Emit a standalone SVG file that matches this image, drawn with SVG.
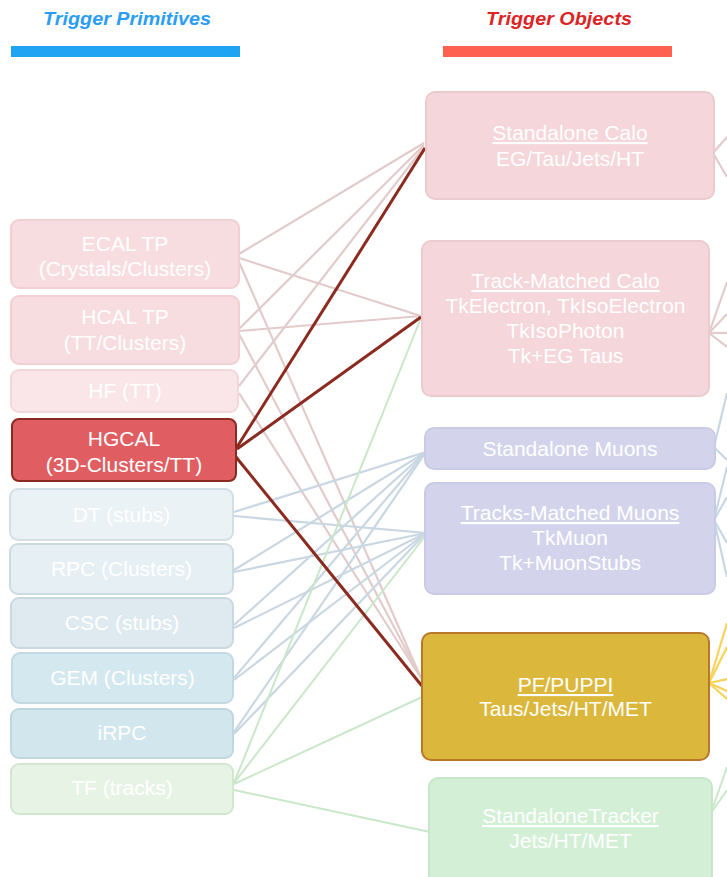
<svg xmlns="http://www.w3.org/2000/svg" width="727" height="877" viewBox="0 0 727 877">
<style>
text{font-family:"Liberation Sans",Arial,sans-serif;fill:#ffffff;font-size:21px;text-anchor:middle}
.hd{font-weight:bold;font-style:italic;font-size:18px}
.u{text-decoration:underline}
.cp{stroke:#e2cbcb;stroke-width:2.2;fill:none}
.cd{stroke:#8b2a1f;stroke-width:3;fill:none}
.cb{stroke:#c9d7e2;stroke-width:2.2;fill:none}
.cg{stroke:#c9e7c9;stroke-width:2;fill:none}
.cy{stroke:#f7d35a;stroke-width:2.2;fill:none}
rect{stroke-width:2}
</style>
<rect width="727" height="877" fill="#ffffff"/>
<g id="headers">
<text class="hd" x="127" y="25" fill="#2a9df4" style="fill:#2a9df4" textLength="168" lengthAdjust="spacingAndGlyphs">Trigger Primitives</text>
<rect x="11" y="46" width="229" height="11" fill="#1fa3f3" style="stroke:none"/>
<text class="hd" x="559" y="25" style="fill:#dd2424" textLength="146" lengthAdjust="spacingAndGlyphs">Trigger Objects</text>
<rect x="443" y="46" width="229" height="11" fill="#ff6150" style="stroke:none"/>
</g>
<g id="connectors">
<line class="cp" x1="239" y1="254" x2="424" y2="143"/>
<line class="cp" x1="239" y1="258" x2="421" y2="316"/>
<line class="cp" x1="239" y1="262" x2="421" y2="678"/>
<line class="cp" x1="239" y1="329" x2="424" y2="145"/>
<line class="cp" x1="239" y1="331" x2="421" y2="316"/>
<line class="cp" x1="239" y1="334" x2="421" y2="678"/>
<line class="cp" x1="239" y1="386" x2="424" y2="147"/>
<line class="cp" x1="239" y1="393" x2="421" y2="678"/>
<line class="cb" x1="234" y1="512" x2="426" y2="452"/>
<line class="cb" x1="234" y1="516" x2="426" y2="533"/>
<line class="cb" x1="234" y1="570" x2="426" y2="452"/>
<line class="cb" x1="234" y1="572" x2="426" y2="533"/>
<line class="cb" x1="234" y1="625" x2="426" y2="452"/>
<line class="cb" x1="234" y1="628" x2="426" y2="533"/>
<line class="cb" x1="234" y1="678" x2="426" y2="452"/>
<line class="cb" x1="234" y1="680" x2="426" y2="533"/>
<line class="cb" x1="234" y1="732" x2="426" y2="452"/>
<line class="cb" x1="234" y1="734" x2="426" y2="533"/>
<line class="cg" x1="234" y1="783" x2="421" y2="318"/>
<line class="cg" x1="234" y1="783" x2="426" y2="535"/>
<line class="cg" x1="234" y1="784" x2="422" y2="697"/>
<line class="cg" x1="234" y1="790" x2="430" y2="832"/>
<line class="cd" x1="237" y1="447" x2="425" y2="148"/>
<line class="cd" x1="237" y1="449" x2="421" y2="317"/>
<line class="cd" x1="236" y1="457" x2="422" y2="686"/>
<line class="cp" x1="713" y1="153" x2="727" y2="137"/>
<line class="cp" x1="713" y1="153" x2="727" y2="177"/>
<line class="cp" x1="709" y1="333" x2="727" y2="282"/>
<line class="cp" x1="709" y1="333" x2="727" y2="314"/>
<line class="cp" x1="709" y1="333" x2="727" y2="333"/>
<line class="cp" x1="709" y1="333" x2="727" y2="347"/>
<line class="cb" x1="714" y1="447" x2="727" y2="393"/>
<line class="cb" x1="714" y1="447" x2="727" y2="460"/>
<line class="cb" x1="714" y1="520" x2="727" y2="467"/>
<line class="cb" x1="714" y1="520" x2="727" y2="497"/>
<line class="cb" x1="714" y1="520" x2="727" y2="543"/>
<line class="cb" x1="714" y1="520" x2="727" y2="577"/>
<line class="cy" x1="709" y1="683" x2="727" y2="623"/>
<line class="cy" x1="709" y1="683" x2="727" y2="647"/>
<line class="cy" x1="709" y1="683" x2="727" y2="679"/>
<line class="cy" x1="709" y1="683" x2="727" y2="691"/>
<line class="cy" x1="709" y1="683" x2="727" y2="699"/>
<line class="cg" x1="711" y1="813" x2="727" y2="767"/>
<line class="cg" x1="711" y1="813" x2="727" y2="790"/>
</g>
<g id="ecal"><rect x="11" y="220" width="228" height="68" rx="8" fill="#f8dde0" stroke="#f1cfd3"/><text x="125" y="251">ECAL TP</text><text x="125" y="276">(Crystals/Clusters)</text></g>
<g id="hcal"><rect x="11" y="296" width="228" height="68" rx="8" fill="#f8dde0" stroke="#f1cfd3"/><text x="125" y="324">HCAL TP</text><text x="125" y="350">(TT/Clusters)</text></g>
<g id="hf"><rect x="11" y="370" width="227" height="42" rx="8" fill="#fae6e8" stroke="#f3d8db"/><text x="125" y="398">HF (TT)</text></g>
<g id="hgcal"><rect x="12" y="419" width="224" height="62" rx="7" fill="#e05e62" stroke="#8b2a22"/><text x="124" y="446">HGCAL</text><text x="124" y="472">(3D-Clusters/TT)</text></g>
<g id="dt"><rect x="10" y="489" width="223" height="51" rx="8" fill="#eaf2f5" stroke="#d2dfe5"/><text x="121.5" y="522">DT (stubs)</text></g>
<g id="rpc"><rect x="10" y="544" width="223" height="50" rx="8" fill="#e6f0f4" stroke="#ccdbe2"/><text x="121.5" y="576">RPC (Clusters)</text></g>
<g id="csc"><rect x="11" y="598" width="222" height="50" rx="8" fill="#deeaef" stroke="#c9d9e1"/><text x="122" y="630">CSC (stubs)</text></g>
<g id="gem"><rect x="12" y="653" width="221" height="50" rx="8" fill="#d4e8ef" stroke="#c3d9e2"/><text x="122.5" y="685">GEM (Clusters)</text></g>
<g id="irpc"><rect x="11" y="709" width="222" height="49" rx="8" fill="#d1e6ed" stroke="#c1d7e0"/><text x="122" y="740">iRPC</text></g>
<g id="tf"><rect x="11" y="764" width="222" height="50" rx="8" fill="#e7f4e5" stroke="#d2e6d0"/><text x="122" y="795">TF (tracks)</text></g>
<g id="sacalo"><rect x="426" y="92" width="288" height="107" rx="9" fill="#f5d6da" stroke="#eccbcf"/><text class="u" x="570" y="140">Standalone Calo</text><text x="570" y="166">EG/Tau/Jets/HT</text></g>
<g id="tmcalo"><rect x="422" y="241" width="287" height="155" rx="9" fill="#f5d6da" stroke="#eccbcf"/><text class="u" x="565.5" y="288">Track-Matched Calo</text><text x="565.5" y="313">TkElectron, TkIsoElectron</text><text x="565.5" y="338">TkIsoPhoton</text><text x="565.5" y="363">Tk+EG Taus</text></g>
<g id="samuons"><rect x="425" y="428" width="290" height="41" rx="9" fill="#d3d4ec" stroke="#c9cae5"/><text x="570" y="456">Standalone Muons</text></g>
<g id="tkmuons"><rect x="425" y="483" width="290" height="111" rx="9" fill="#d3d4ec" stroke="#c9cae5"/><text class="u" x="570" y="520">Tracks-Matched Muons</text><text x="570" y="545">TkMuon</text><text x="570" y="570">Tk+MuonStubs</text></g>
<g id="pf"><rect x="422" y="633" width="287" height="127" rx="9" fill="#dbb83c" stroke="#b8782c"/><text class="u" x="565.5" y="692">PF/PUPPI</text><text x="565.5" y="716">Taus/Jets/HT/MET</text></g>
<g id="satracker"><rect x="429" y="778" width="283" height="110" rx="9" fill="#d3f0d7" stroke="#c6e7ca"/><text class="u" x="570.5" y="823">StandaloneTracker</text><text x="570.5" y="848">Jets/HT/MET</text></g>
</svg>
